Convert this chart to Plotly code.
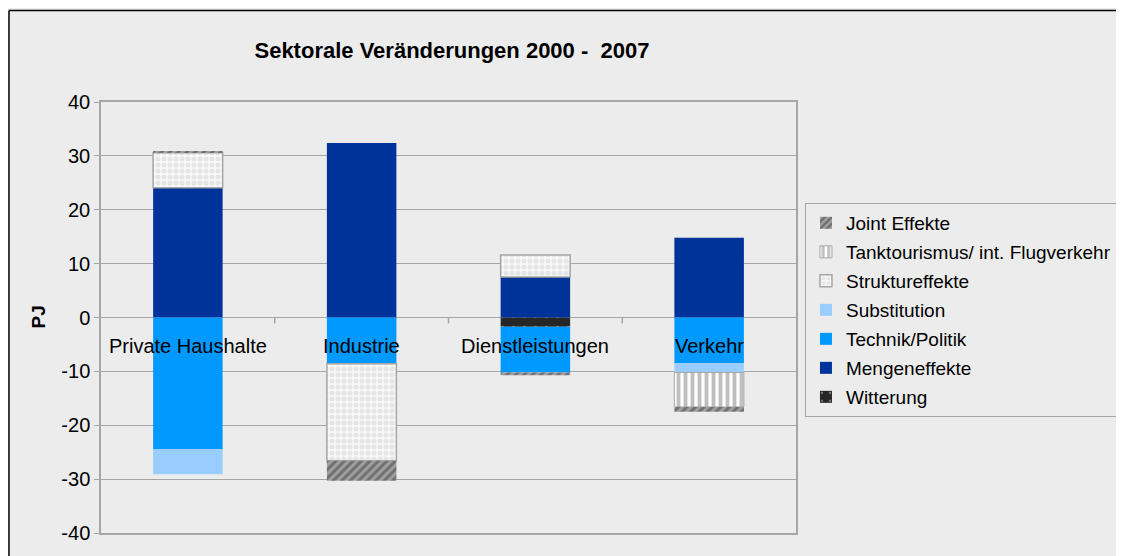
import plotly.graph_objects as go

categories = ["Private Haushalte", "Industrie", "Dienstleistungen", "Verkehr"]

witterung = [0, 0, -1.7, 0]
mengeneffekte = [24.1, 32.4, 7.5, 14.8]
technik_politik = [-24.4, -8.6, -8.5, -8.5]
substitution = [-4.7, 0, 0, -1.7]
struktureffekte = [6.5, -18.0, 4.1, 0]
tanktourismus = [0, 0, 0, -6.4]
joint_effekte = [0.3, -3.7, -0.5, -0.9]

y_ticks = [40, 30, 20, 10, 0, -10, -20, -30, -40]

FONT = "Liberation Sans, Arial, sans-serif"
BG = "#ececec"
GRID = "#a6a6a6"

x_idx = list(range(len(categories)))

series = [
    ("Witterung", witterung, dict(color="#262626", line=dict(width=0),
                                  pattern=dict(shape=".", fgcolor="#bbbbbb", bgcolor="#262626",
                                               size=11, solidity=0.08))),
    ("Mengeneffekte", mengeneffekte, dict(color="#003399", line=dict(width=0))),
    ("Technik/Politik", technik_politik, dict(color="#0099ff", line=dict(width=0))),
    ("Substitution", substitution, dict(color="#99ccff", line=dict(width=0))),
    ("Struktureffekte", struktureffekte, dict(color="#ffffff", line=dict(width=1.5, color="#a6a6a6"),
                                              pattern=dict(shape=".", fgcolor="#d2d2d2", bgcolor="#f8f8f8",
                                                           size=6, solidity=0.55))),
    ("Tanktourismus/ int. Flugverkehr", tanktourismus,
     dict(color="#ffffff", line=dict(width=1, color="#a6a6a6"),
          pattern=dict(shape="|", fgcolor="#808080", bgcolor="#ffffff", size=7, solidity=0.55))),
    ("Joint Effekte", joint_effekte, dict(color="#909090", line=dict(width=0),
                                          pattern=dict(shape="/", fgcolor="#404040", bgcolor="#a0a0a0",
                                                       size=6, solidity=0.5))),
]

fig = go.Figure()
n = len(series)
for k, (name, vals, marker) in enumerate(series):
    yvals = [v if v != 0 else None for v in vals]
    fig.add_trace(go.Bar(x=x_idx, y=yvals, name=name, marker=marker, width=0.40,
                         legendgroup=name, legendrank=n - k, hoverinfo="name+y"))

annotations = []
for i, c in enumerate(categories):
    annotations.append(dict(x=i, y=0, xref="x", yref="y", text=c, showarrow=False,
                            xanchor="center", yanchor="middle", yshift=-28,
                            font=dict(family=FONT, size=20, color="#000000")))
annotations.append(dict(x=-0.0906, y=0.5, xref="paper", yref="paper", text="<b>PJ</b>",
                        showarrow=False, textangle=-90, xanchor="center", yanchor="middle",
                        font=dict(family=FONT, size=19, color="#000000")))

shapes = []
for b in [0.5, 1.5, 2.5]:
    shapes.append(dict(type="line", xref="x", yref="y", x0=b, x1=b, y0=0, y1=-1.1,
                       line=dict(color=GRID, width=1.5)))
# outer chart border (top and left edges; the rest lies outside the picture)
shapes.append(dict(type="line", xref="paper", yref="paper", x0=-0.1324, x1=1.8, y0=1.2123, y1=1.2123,
                   line=dict(color="#000000", width=1.5), layer="below"))
shapes.append(dict(type="line", xref="paper", yref="paper", x0=-0.1324, x1=-0.1324, y0=-0.2, y1=1.2123,
                   line=dict(color="#000000", width=1.5), layer="below"))

fig.update_layout(
    width=1124, height=556,
    margin=dict(l=93, r=336, t=94, b=31, autoexpand=False),
    paper_bgcolor=BG, plot_bgcolor=BG,
    barmode="relative",
    title=dict(text="<b>Sektorale Veränderungen 2000 - \u00a02007</b>", x=0.505, xref="paper",
               xanchor="center", y=1 - 42 / 556, yref="container", yanchor="middle",
               font=dict(family=FONT, size=22, color="#000000")),
    font=dict(family=FONT, size=20, color="#000000"),
    xaxis=dict(range=[-0.5, 3.5], showticklabels=False, showgrid=False, zeroline=False,
               showline=True, linecolor=GRID, linewidth=1.5, mirror=True, ticks="",
               automargin=False),
    yaxis=dict(range=[-40, 40], tickvals=y_ticks, ticktext=[str(v) for v in y_ticks],
               showgrid=True, gridcolor=GRID, gridwidth=1, zeroline=True, zerolinecolor=GRID,
               zerolinewidth=1, showline=True, linecolor=GRID, linewidth=1.5, mirror=True,
               ticks="outside", ticklen=5, tickcolor=GRID, automargin=False,
               tickfont=dict(family=FONT, size=20, color="#000000")),
    legend=dict(x=1.0129, xref="paper", xanchor="left", y=0.7657, yanchor="top",
                traceorder="grouped", tracegroupgap=1.3,
                bgcolor=BG, bordercolor="#a6a6a6", borderwidth=1,
                font=dict(family=FONT, size=19, color="#000000")),
    annotations=annotations,
    shapes=shapes,
)

fig.write_html("out.html")
